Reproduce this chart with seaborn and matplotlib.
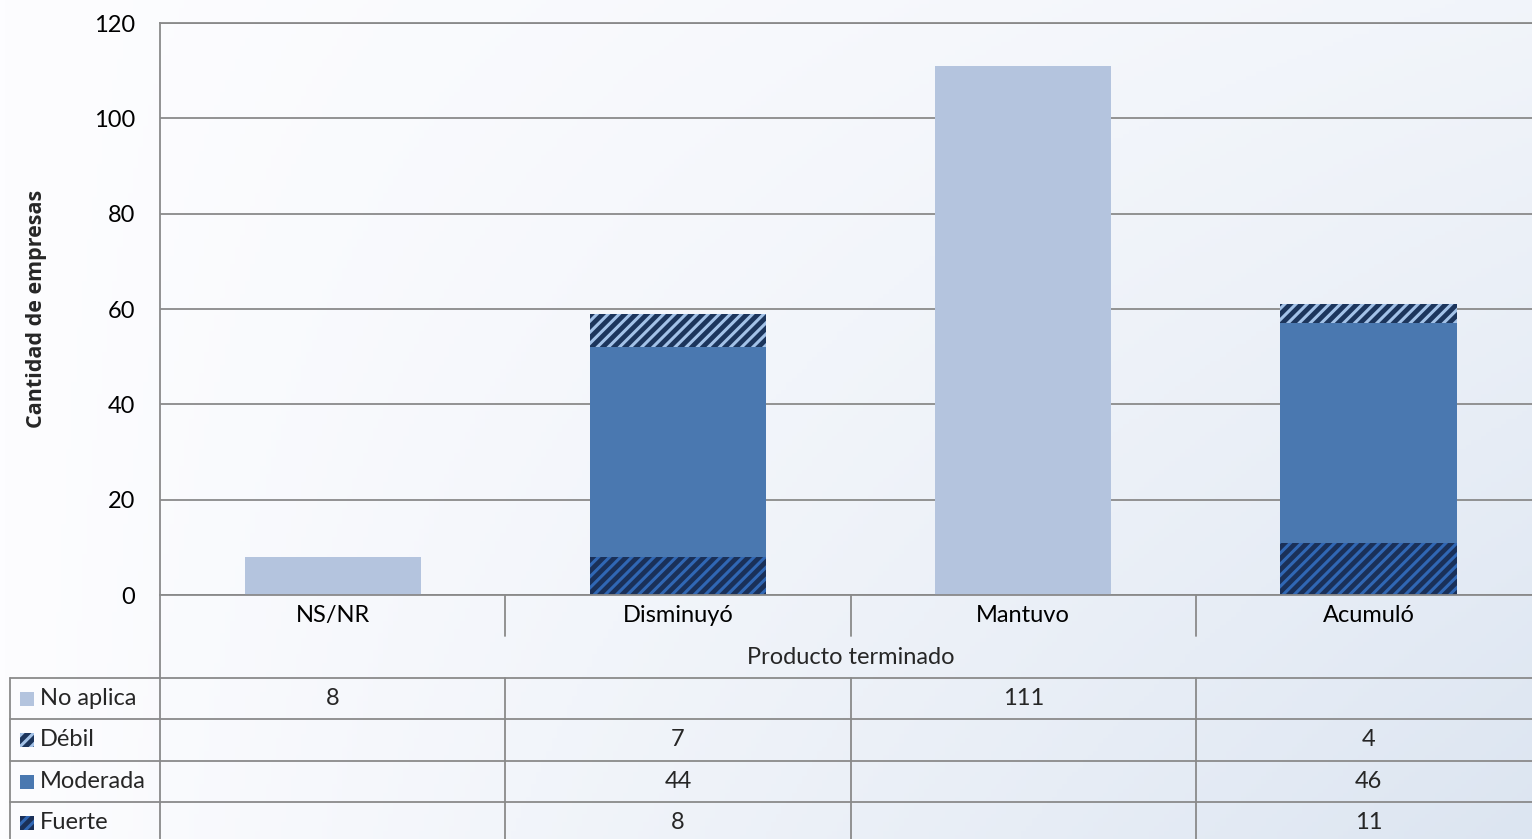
import numpy as np
import pandas as pd
import seaborn as sns
import matplotlib.pyplot as plt
import matplotlib.transforms as mtransforms
from matplotlib.patches import Rectangle

# --- datos ---
categorias = ["NS/NR", "Disminuyó", "Mantuvo", "Acumuló"]
no_aplica = [8, 0, 111, 0]
debil = [0, 7, 0, 4]
moderada = [0, 44, 0, 46]
fuerte = [0, 8, 0, 11]
titulo_x = "Producto terminado"
titulo_y = "Cantidad de empresas"
yticks = [0, 20, 40, 60, 80, 100, 120]

df = pd.DataFrame({"categoria": categorias, "No aplica": no_aplica, "Débil": debil,
                   "Moderada": moderada, "Fuerte": fuerte})

# estilo de cada serie: (color de fondo, trama, color de trama)
estilos = {
    "No aplica": ("#b4c4de", None, "#b4c4de"),
    "Débil": ("#1c355c", "///", "#a3c2e8"),
    "Moderada": ("#4a78b0", None, "#4a78b0"),
    "Fuerte": ("#1a3058", "///", "#3067b4"),
}
orden_pila = ["Fuerte", "Moderada", "Débil", "No aplica"]
orden_tabla = ["No aplica", "Débil", "Moderada", "Fuerte"]

W, H = 1532, 839
fs = 17
sns.set_style("white")
plt.rcParams["font.family"] = ["Lato", "DejaVu Sans"]
plt.rcParams["hatch.linewidth"] = 2.2
gris = "#8a8a8a"

fig = plt.figure(figsize=(W / 100, H / 100), dpi=100)

# fondo degradado
bg = fig.add_axes([0, 0, 1, 1], zorder=0)
xx, yy = np.meshgrid(np.linspace(0, 1, 300), np.linspace(0, 1, 200))
t = xx * (0.35 + 0.65 * yy)
c0 = np.array([253, 253, 255]) / 255
c1 = np.array([220, 229, 241]) / 255
img = c0 + (c1 - c0) * t[..., None]
bg.imshow(img, aspect="auto", extent=[0, 1, 1, 0])
bg.set_xlim(0, 1)
bg.set_ylim(1, 0)
bg.axis("off")

# área de gráfico
col_w = 345.3
ax = fig.add_axes([160 / W, (H - 595) / H, 4 * col_w / W, 572 / H], zorder=1)
ax.patch.set_alpha(0)

base = np.zeros(len(categorias))
for nombre in orden_pila:
    vals = df[nombre].to_numpy(dtype=float)
    fc, hatch, hc = estilos[nombre]
    sns.barplot(x=df["categoria"], y=vals, bottom=base, color=fc, saturation=1,
                width=0.51, hatch=hatch, edgecolor=hc, linewidth=0, ax=ax, zorder=2)
    base = base + vals

ax.set_xlim(-0.5, 3.5)
ax.set_ylim(0, 120)
ax.set_yticks(yticks)
ax.yaxis.grid(True, color=gris, linewidth=1.3)
ax.set_axisbelow(True)
for s in ["left", "top", "bottom"]:
    ax.spines[s].set_color(gris)
    ax.spines[s].set_linewidth(1.3)
ax.spines["right"].set_visible(False)
ax.tick_params(axis="y", length=0, pad=18, labelsize=fs, labelcolor="black")
ax.tick_params(axis="x", length=0, pad=7, labelsize=fs, labelcolor="black")
ax.set_xlabel("")
ax.set_ylabel(titulo_y, fontsize=15.5, fontweight="bold",
              family=["Open Sans", "DejaVu Sans"])

# capa superior en píxeles para la tabla de datos
ov = fig.add_axes([0, 0, 1, 1], zorder=2)
ov.set_xlim(0, W)
ov.set_ylim(H, 0)
ov.axis("off")
ov.patch.set_alpha(0)
ax.yaxis.set_label_coords(47, 309, transform=ov.transData)

mix = mtransforms.blended_transform_factory(ax.transData, ov.transData)
lkw = dict(color=gris, linewidth=1.3, clip_on=False)

filas_y = [678, 719, 761, 802, 843]
for b in [0.5, 1.5, 2.5]:
    ov.plot([b, b], [595, 636], transform=mix, **lkw)
    ov.plot([b, b], [678, 839], transform=mix, **lkw)
ov.plot([160, 160], [595, 839], **lkw)
ov.plot([10, 10], [678, 839], **lkw)
for y in filas_y[:-1]:
    ov.plot([10, W], [y, y], **lkw)

ov.text(1.5, 657, titulo_x, transform=mix, ha="center", va="center", fontsize=fs)

for i, nombre in enumerate(orden_tabla):
    yc = (filas_y[i] + filas_y[i + 1]) / 2
    fc, hatch, hc = estilos[nombre]
    ov.add_patch(Rectangle((20, yc - 7), 14, 14, facecolor=fc, hatch=hatch,
                           edgecolor=hc, linewidth=0))
    ov.text(40, yc, nombre, ha="left", va="center", fontsize=fs)
    for j, v in enumerate(df[nombre]):
        if v:
            ov.text(j, yc, f"{v}", transform=mix, ha="center", va="center", fontsize=fs)

fig.savefig("out.png", dpi=100)
